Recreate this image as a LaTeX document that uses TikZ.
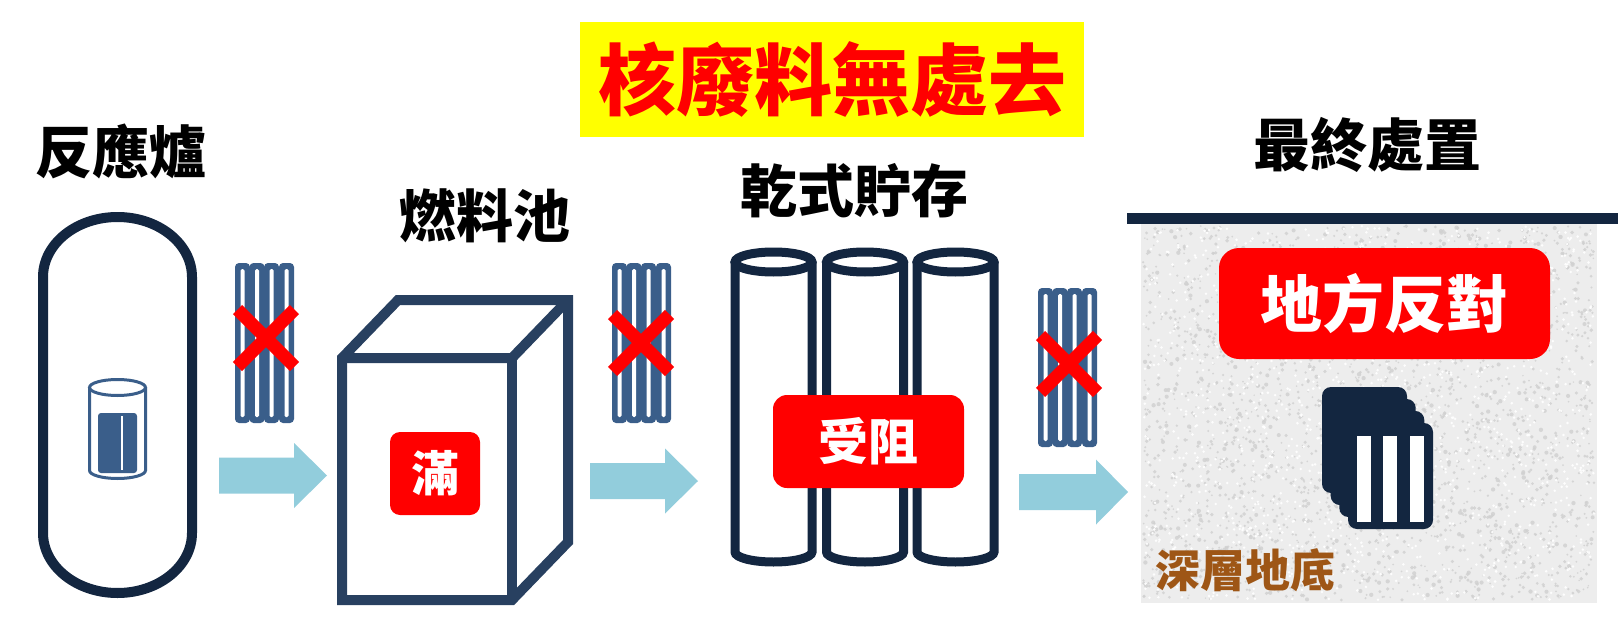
\documentclass[tikz,border=0pt]{standalone}
\usepackage{fontspec}
\setmainfont{Noto Sans CJK TC}
\definecolor{navy}{RGB}{19,38,64}
\definecolor{boxblue}{RGB}{40,64,96}
\definecolor{rodblue}{RGB}{58,94,138}
\definecolor{arrowblue}{RGB}{146,205,220}
\definecolor{alarm}{RGB}{255,0,0}
\definecolor{banner}{RGB}{255,255,0}
\definecolor{soil}{RGB}{237,237,237}
\definecolor{fleck}{RGB}{208,208,208}
\definecolor{earth}{RGB}{158,86,22}
\tikzset{
  steptitle/.style={inner sep=0pt, text=black, font=\fontsize{57}{57}\selectfont\bfseries},
  badge/.style={fill=alarm, text=white, inner sep=0pt},
  fuelrod/.style={fill=rodblue, rounded corners=4pt},
  stopmark/.style={draw=alarm, line width=13pt},
  flowarrow/.style={fill=arrowblue},
  pics/rods/.style={code={
    \foreach \cx in {7.5,22,36.5,51.5}{
      \fill[fuelrod] (\cx-7.5,0) rectangle (\cx+7.5,#1);
      \fill[white, rounded corners=1.5pt] (\cx-2,6) rectangle (\cx+2,#1-6);
    }
  }},
}
\begin{document}
\begin{tikzpicture}[x=1pt, y=-1pt]
\useasboundingbox (0,0) rectangle (1618,629);
\fill[white] (0,0) rectangle (1618,629);

% headline banner
\node[fill=banner, text=alarm, minimum width=504pt, minimum height=115pt, inner sep=0pt,
      font=\fontsize{78}{78}\selectfont\bfseries] (head) at (832,79.5) {核廢料無處去};

% stage titles
\node[steptitle] (reactorT) at (121,151) {反應爐};
\node[steptitle] (poolT) at (485,216) {燃料池};
\node[steptitle] (dryT) at (854,191) {乾式貯存};
\node[steptitle] (finalT) at (1367,145) {最終處置};

% reactor vessel
\draw[navy, line width=10pt] (43,277) -- (43,533)
   arc[start angle=180, end angle=0, x radius=74.5, y radius=60] -- (192,277)
   arc[start angle=0, end angle=-180, x radius=74.5, y radius=60] -- cycle;
% fuel canister inside the reactor
\draw[rodblue, line width=3pt, fill=white] (89.5,387.5) -- (89.5,470.5)
   arc[start angle=180, end angle=0, x radius=28, y radius=8] -- (145.5,387.5);
\draw[rodblue, line width=3pt] (117.5,387.5) ellipse[x radius=28, y radius=8];
\fill[rodblue, rounded corners=3pt] (98,413) rectangle (137,473);
\fill[white] (121,416) rectangle (123,470);

% fuel pool box
\draw[boxblue, line width=10pt, line join=miter, fill=white]
   (342,358) -- (398,300) -- (568,300) -- (568,542) -- (512,600) -- (342,600) -- cycle;
\draw[boxblue, line width=10pt, line join=miter] (342,358) -- (512,358) -- (568,300);
\draw[boxblue, line width=10pt] (512,358) -- (512,600);
\node[badge, minimum width=90pt, minimum height=83pt, rounded corners=10pt,
      font=\fontsize{48}{48}\selectfont\bfseries] (full) at (435,473.5) {滿};

% dry storage casks
\foreach \cx in {773.5,865,955.5}{
  \draw[navy, line width=9pt, fill=white] (\cx-38.5,262) -- (\cx-38.5,552)
     arc[start angle=180, end angle=0, x radius=38.5, y radius=10] -- (\cx+38.5,262);
  \draw[navy, line width=9pt, fill=white] (\cx,262) ellipse[x radius=38.5, y radius=10];
}
\node[badge, minimum width=191pt, minimum height=93pt, rounded corners=14pt,
      font=\fontsize{50}{50}\selectfont\bfseries] (blocked) at (868.5,441.5) {受阻};

% deep geological repository, granite-like fill
\fill[soil] (1141,224) rectangle (1597,603);
\pgfmathsetseed{417}
\foreach \i in {1,...,2600}{
  \pgfmathsetmacro\px{1143+451*rnd}
  \pgfmathsetmacro\py{226+374*rnd}
  \pgfmathsetmacro\pr{0.8+1.4*rnd}
  \fill[fleck, opacity=0.8] (\px,\py) circle (\pr);
}
\foreach \i in {1,...,1400}{
  \pgfmathsetmacro\px{1143+451*rnd}
  \pgfmathsetmacro\py{226+374*rnd}
  \fill[white, opacity=0.9] (\px,\py) circle (1.4);
}
\draw[navy, line width=11pt] (1127,218) -- (1618,218);
\node[badge, minimum width=331pt, minimum height=111pt, rounded corners=20pt,
      font=\fontsize{62}{62}\selectfont\bfseries] (oppose) at (1384.5,303.5) {地方反對};
% stacked disposal canisters
\foreach \dx/\dy in {0/0, 8.7/12, 17.3/24, 26/36}{
  \fill[navy, rounded corners=9pt] (1322+\dx,387+\dy) rectangle ++(85,106);
}
\foreach \sx in {1357,1383,1410}{
  \fill[white] (\sx,436) rectangle ++(13.5,86);
}
\node[inner sep=0pt, text=earth, font=\fontsize{45}{45}\selectfont\bfseries] (deep) at (1245,570) {深層地底};

% spent fuel bundles, each barred
\pic at (235,263) {rods=160};
\pic at (612,263) {rods=160};
\pic at (1038,288) {rods=159};
\foreach \mx/\my in {266/338, 641/343, 1069/364}{
  \draw[stopmark] (\mx-28.5,\my-28.5) -- (\mx+28.5,\my+28.5);
  \draw[stopmark] (\mx-28.5,\my+28.5) -- (\mx+28.5,\my-28.5);
}

% flow arrows between stages
\foreach \xa/\xh/\xt/\cy in {219/294/327/475.5, 590/665/698/481, 1019/1096/1128/492}{
  \fill[flowarrow] (\xa,\cy-18) -- (\xh,\cy-18) -- (\xh,\cy-32.5) -- (\xt,\cy)
     -- (\xh,\cy+32.5) -- (\xh,\cy+18) -- (\xa,\cy+18) -- cycle;
}
\end{tikzpicture}
\end{document}
